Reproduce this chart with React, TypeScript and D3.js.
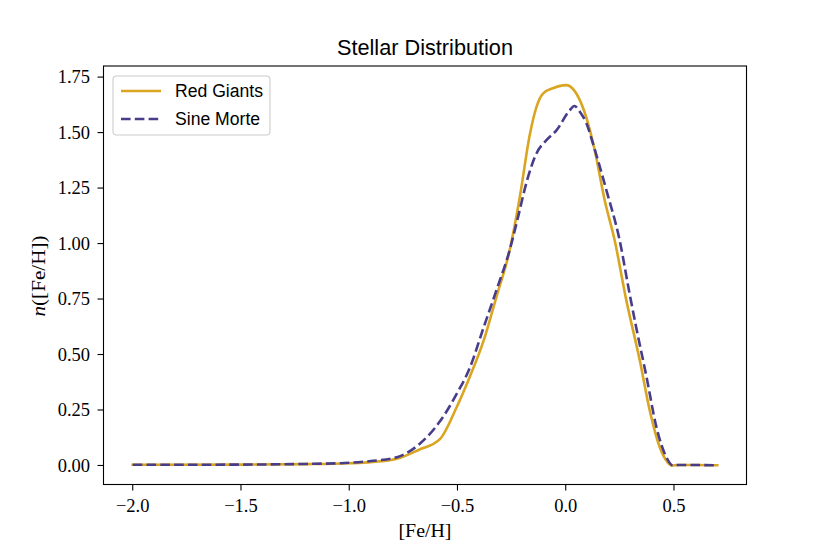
import React from "react";
import * as d3 from "d3";

const redX = [-2.0, -1.5, -1.2, -1.0, -0.9, -0.78, -0.68, -0.58, -0.505, -0.443, -0.38, -0.32, -0.259, -0.212, -0.166, -0.135, -0.105, -0.059, 0.003, 0.049, 0.096, 0.134, 0.18, 0.226, 0.28, 0.342, 0.388, 0.434, 0.47, 0.49, 0.52, 0.6, 0.7];
const redY = [0.003, 0.004, 0.006, 0.01, 0.015, 0.03, 0.07, 0.12, 0.26, 0.40, 0.56, 0.76, 0.97, 1.21, 1.49, 1.616, 1.676, 1.70, 1.714, 1.676, 1.565, 1.42, 1.195, 1.015, 0.744, 0.474, 0.248, 0.083, 0.015, 0.0, 0.002, 0.002, 0.001];

const sineX = [-2.0, -1.5, -1.2, -1.0, -0.9, -0.78, -0.674, -0.58, -0.505, -0.443, -0.38, -0.32, -0.259, -0.22, -0.18, -0.135, -0.089, -0.043, 0.018, 0.04, 0.065, 0.096, 0.126, 0.188, 0.249, 0.295, 0.326, 0.373, 0.419, 0.465, 0.495, 0.52, 0.6, 0.7];
const sineY = [0.003, 0.004, 0.007, 0.012, 0.02, 0.037, 0.098, 0.20, 0.32, 0.44, 0.62, 0.79, 0.97, 1.12, 1.28, 1.406, 1.466, 1.51, 1.60, 1.62, 1.594, 1.541, 1.45, 1.24, 1.015, 0.774, 0.62, 0.40, 0.173, 0.037, 0.0, 0.002, 0.002, 0.001];

const xTicks = [-2.0, -1.5, -1.0, -0.5, 0.0, 0.5];
const yTicks = [0.0, 0.25, 0.5, 0.75, 1.0, 1.25, 1.5, 1.75];

const seriesNames = ["Red Giants", "Sine Morte"];
const seriesColors = ["#DAA520", "#483D8B"];

const W = 830, H = 554;
const left = 103.5, right = 746.5, top = 66, bottom = 484.5;

export default function App() {
  const x = d3.scaleLinear().domain([-2.135, 0.835]).range([left, right]);
  const y = d3.scaleLinear().domain([-0.0857, 1.8]).range([bottom, top]);
  const line = d3
    .line<[number, number]>()
    .x((d) => x(d[0]))
    .y((d) => y(d[1]))
    .curve(d3.curveMonotoneX);
  const redPts = redX.map((v, i) => [v, redY[i]] as [number, number]);
  const sinePts = sineX.map((v, i) => [v, sineY[i]] as [number, number]);
  const fx = d3.format(".1f");
  const fy = d3.format(".2f");
  const serif = "'Liberation Serif', 'DejaVu Serif', serif";
  const sans = "'Liberation Sans', Arial, sans-serif";
  const lw = 2.6;
  const dash = "9.6,4.2";

  return (
    <svg width={W} height={H} style={{ position: "absolute", left: 0, top: 0, background: "#fff" }}>
      <rect x={0} y={0} width={W} height={H} fill="#fff" />
      <defs>
        <clipPath id="plotclip">
          <rect x={left} y={top} width={right - left} height={bottom - top} />
        </clipPath>
      </defs>
      <g clipPath="url(#plotclip)">
        <path d={line(redPts) || ""} fill="none" stroke={seriesColors[0]} strokeWidth={lw} strokeLinejoin="round" strokeLinecap="square" />
        <path d={line(sinePts) || ""} fill="none" stroke={seriesColors[1]} strokeWidth={lw} strokeDasharray={dash} strokeLinejoin="round" />
      </g>
      <rect x={left} y={top} width={right - left} height={bottom - top} fill="none" stroke="#000" strokeWidth={1.1} />
      {xTicks.map((t) => (
        <g key={"x" + t}>
          <line x1={x(t)} x2={x(t)} y1={bottom} y2={bottom + 6} stroke="#000" strokeWidth={1.1} />
          <text x={x(t)} y={511.5} textAnchor="middle" fontFamily={serif} fontSize={18.5} fill="#000">
            {fx(t)}
          </text>
        </g>
      ))}
      {yTicks.map((t) => (
        <g key={"y" + t}>
          <line x1={left - 6} x2={left} y1={y(t)} y2={y(t)} stroke="#000" strokeWidth={1.1} />
          <text x={90} y={y(t)} dy="0.33em" textAnchor="end" fontFamily={serif} fontSize={18.5} fill="#000">
            {fy(t)}
          </text>
        </g>
      ))}
      <text x={(left + right) / 2} y={55} textAnchor="middle" fontFamily={sans} fontSize={21.7} fill="#000">
        Stellar Distribution
      </text>
      <text x={(left + right) / 2} y={537} textAnchor="middle" fontFamily={serif} fontSize={18.5} fill="#000" textLength={53} lengthAdjust="spacingAndGlyphs">
        [Fe/H]
      </text>
      <text transform={`translate(45,276) rotate(-90)`} textAnchor="middle" fontFamily={serif} fontSize={18.5} fill="#000" textLength={81} lengthAdjust="spacingAndGlyphs">
        <tspan fontStyle="italic">n</tspan>([Fe/H])
      </text>
      <g>
        <rect x={113} y={76} width={157} height={59} rx={3.5} fill="#fff" fillOpacity={0.8} stroke="#cccccc" strokeWidth={1.1} />
        {seriesNames.map((name, i) => (
          <g key={name}>
            <line x1={121} x2={161} y1={91 + i * 28} y2={91 + i * 28} stroke={seriesColors[i]} strokeWidth={lw} strokeDasharray={i === 1 ? dash : undefined} />
            <text x={175} y={91 + i * 28} dy="0.36em" fontFamily={sans} fontSize={17.6} fill="#000">
              {name}
            </text>
          </g>
        ))}
      </g>
    </svg>
  );
}
